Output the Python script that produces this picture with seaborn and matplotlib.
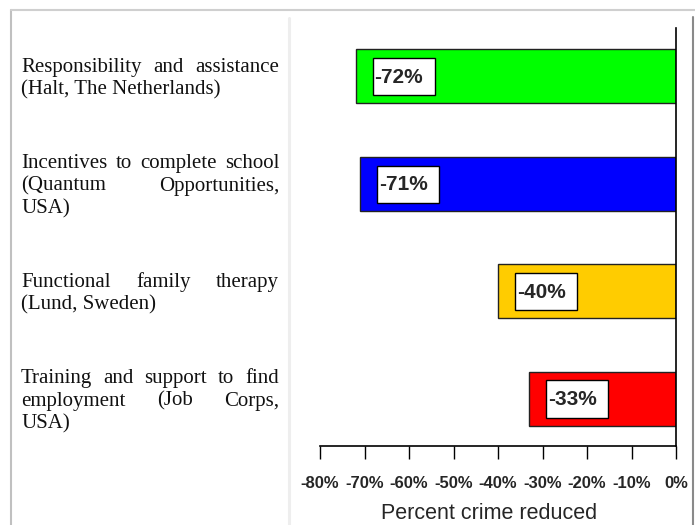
import matplotlib
matplotlib.use("Agg")
import matplotlib.pyplot as plt
import seaborn as sns
import pandas as pd
from matplotlib.patches import Rectangle
from matplotlib.lines import Line2D

programs = ["Halt", "Quantum", "Lund", "Job Corps"]
reduction = [-72, -71, -40, -33]
bar_colors = ["#00ff00", "#0000ff", "#ffcc00", "#ff0000"]
value_labels = ["-72%", "-71%", "-40%", "-33%"]
descriptions = [
    ["Responsibility and assistance", "(Halt, The Netherlands)"],
    ["Incentives to complete school", "(Quantum Opportunities,", "USA)"],
    ["Functional family therapy", "(Lund, Sweden)"],
    ["Training and support to find", "employment (Job Corps,", "USA)"],
]
xticks = [-80, -70, -60, -50, -40, -30, -20, -10, 0]
xtick_labels = ["-80%", "-70%", "-60%", "-50%", "-40%", "-30%", "-20%", "-10%", "0%"]

df = pd.DataFrame({"program": programs, "reduction": reduction})

sns.set_style("white")
W, H = 695, 525
fig = plt.figure(figsize=(W / 100, H / 100), dpi=100)
ax = fig.add_axes([320 / W, 1 - 446 / H, (676 - 320) / W, (446 - 28) / H])

sns.barplot(data=df, x="reduction", y="program", hue="program", palette=bar_colors,
            legend=False, width=0.5, edgecolor="#222222", linewidth=1.0,
            orient="h", ax=ax, saturation=1)

ax.set_xlim(-80, 0)
ax.set_ylim(3.44, -0.45)
ax.set_xticks(xticks)
ax.set_xticklabels(xtick_labels, fontfamily="Liberation Sans", fontweight="bold", fontsize=12)
ax.tick_params(axis="x", bottom=True, direction="out", length=9.5, width=1,
               color="black", pad=12)
ax.tick_params(axis="y", left=False, labelleft=False)
ax.set_ylabel("")
ax.set_xlabel("Percent crime reduced", fontfamily="Liberation Sans", fontsize=15.5,
              labelpad=9)
ax.xaxis.label.set_x(0.475)
for s in ["top", "left"]:
    ax.spines[s].set_visible(False)
for s in ["bottom", "right"]:
    ax.spines[s].set_visible(True)
    ax.spines[s].set_color("black")
    ax.spines[s].set_linewidth(1.2)
ax.patch.set_alpha(0)

# value boxes
for i, (v, lab) in enumerate(zip(reduction, value_labels)):
    ax.add_patch(Rectangle((v + 3.8, i - 0.17), 14.0, 0.345, facecolor="white",
                           edgecolor="black", linewidth=1, zorder=5))
    ax.text(v + 4.2, i + 0.01, lab, ha="left", va="center", fontsize=15,
            fontweight="bold", fontfamily="Liberation Sans", zorder=6)

# figure frame lines
fig.add_artist(Line2D([11 / W, 11 / W], [0, 1 - 10 / H], color="#c0c0c0", lw=1.5))
fig.add_artist(Line2D([11 / W, 1], [1 - 10 / H, 1 - 10 / H], color="#cfcfcf", lw=1.5))
fig.add_artist(Line2D([693 / W, 693 / W], [0, 1 - 17 / H], color="#8a8a8a", lw=1.5))
fig.add_artist(Line2D([288.5 / W, 288.5 / W], [0, 1 - 18 / H], color="#eeeeee", lw=2.2))

# justified description text on the left
fig.canvas.draw()
renderer = fig.canvas.get_renderer()
left_px, right_px = 21, 279
line_h = 23
cap_h = 14
font = dict(fontfamily="Liberation Serif", fontsize=15, color="#111111")

for i, lines in enumerate(descriptions):
    center_px = ax.transData.transform((0, i))[1]  # display coords (from bottom)
    n = len(lines)
    block = cap_h + (n - 1) * line_h
    first_base = center_px + block / 2 - cap_h  # baseline in display coords
    for j, line in enumerate(lines):
        base = first_base - j * line_h
        yf = base / H
        words = line.split()
        if j == n - 1 or len(words) == 1:
            fig.text(left_px / W, yf, line, ha="left", va="baseline", **font)
            continue
        widths = []
        for w in words:
            t = fig.text(0, 0, w, **font)
            widths.append(t.get_window_extent(renderer).width)
            t.remove()
        gap = (right_px - left_px - sum(widths)) / (len(words) - 1)
        x = left_px
        for w, wd in zip(words, widths):
            fig.text(x / W, yf, w, ha="left", va="baseline", **font)
            x += wd + gap

fig.savefig("out.png", dpi=100)
